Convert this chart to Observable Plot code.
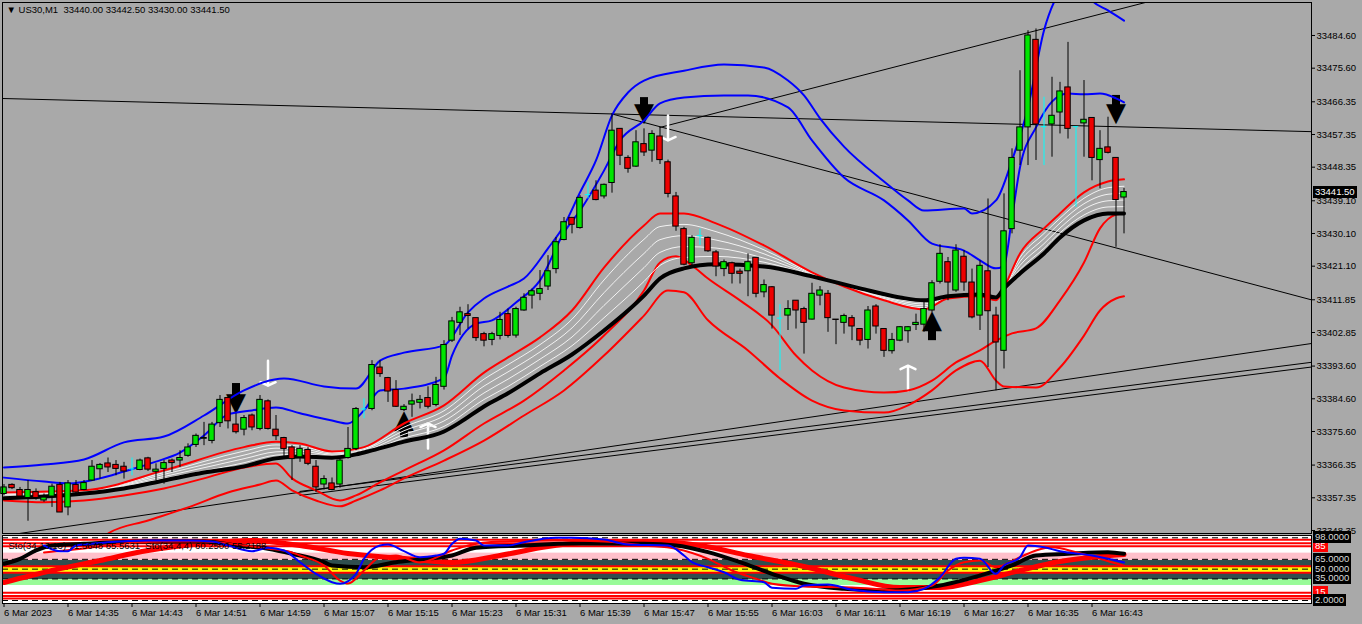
<!DOCTYPE html>
<html><head><meta charset="utf-8">
<script src="https://cdn.jsdelivr.net/npm/d3@7"></script>
<script src="https://cdn.jsdelivr.net/npm/@observablehq/plot@0.6"></script>
<style>
html,body{margin:0;padding:0;background:#a9a9a9;}
#wrap{position:relative;width:1362px;height:624px;background:#a9a9a9;overflow:hidden;font-family:"Liberation Sans",Arial,sans-serif;}
#main{position:absolute;left:0;top:0;}
#ind{position:absolute;left:0;top:534px;}
.box{position:absolute;height:12px;line-height:12px;font-size:9.5px;padding:0 2px;white-space:nowrap;}
</style></head><body><div id="wrap"><div id="main"></div><div id="ind"></div></div>
<script>
// ---------- candles (1-minute bars, US30, 6 Mar 2023 14:27 .. 16:47) ----------
const open = [33358.4,33360.9,33359.5,33357.3,33358.9,33356.6,33357.7,33360.9,33354.7,33360.9,
 33359.5,33362.1,33365.2,33366.8,33366.4,33365.9,33365.3,33365.0,33368.2,33364.5,
 33365.3,33367.6,33367.6,33368.9,33371.9,33373.6,33373.0,33377.9,33384.8,33377.5,
 33376.1,33380.0,33376.3,33383.9,33376.1,33373.8,33371.2,33368.5,33370.5,33365.9,
 33361.0,33361.3,33361.0,33368.3,33370.8,33381.8,33381.8,33393.2,33390.3,33387.0,
 33381.5,33383.0,33383.5,33384.8,33382.9,33387.9,33400.6,33405.5,33407.9,33406.8,
 33402.4,33400.8,33401.9,33407.9,33402.0,33408.9,33413.0,33413.5,33415.5,33420.3,
 33428.3,33434.4,33431.6,33440.8,33441.9,33440.3,33444.0,33458.9,33450.9,33448.5,
 33454.7,33452.9,33456.8,33449.7,33440.3,33431.3,33421.9,33429.5,33428.9,33424.9,
 33420.3,33421.9,33419.6,33419.7,33423.4,33413.9,33415.3,33406.8,33407.5,33411.6,
 33409.3,33406.4,33413.0,33413.5,33406.4,33405.5,33406.8,33403.8,33400.8,33410.0,
 33403.8,33397.7,33400.6,33403.2,33404.9,33405.0,33408.9,33416.8,33422.2,33414.4,
 33423.7,33416.6,33407.5,33419.7,33407.5,33397.8,33431.3,33452.9,33459.3,33483.4,
 33459.5,33460.1,33463.4,33470.3,33459.5,33460.4,33461.9,33450.3,33453.8,33450.9,
 33440.0];
const high = [33361.0,33361.2,33360.2,33362.1,33359.8,33358.4,33361.1,33361.6,33362.1,33362.1,
 33362.1,33367.6,33366.8,33368.3,33367.6,33367.1,33368.3,33368.0,33368.5,33366.7,
 33367.6,33368.0,33370.3,33372.2,33374.9,33378.1,33378.1,33385.5,33385.0,33380.4,
 33380.0,33380.4,33385.5,33384.3,33380.0,33374.0,33371.7,33371.7,33371.2,33367.6,
 33363.4,33362.8,33368.0,33376.7,33382.2,33384.6,33395.1,33395.1,33390.5,33389.6,
 33383.0,33385.9,33385.5,33387.9,33390.5,33400.6,33407.0,33409.8,33410.5,33406.8,
 33402.9,33402.9,33408.4,33409.3,33409.8,33413.5,33414.8,33419.9,33424.0,33429.0,
 33434.5,33434.5,33440.5,33444.2,33444.6,33443.7,33463.0,33458.9,33451.5,33458.4,
 33458.9,33458.4,33459.3,33450.3,33441.4,33431.8,33429.5,33431.3,33429.1,33425.4,
 33422.8,33422.2,33420.3,33424.5,33423.5,33417.3,33415.5,33410.5,33411.6,33411.6,
 33409.8,33416.4,33415.5,33414.4,33406.4,33407.9,33407.5,33403.8,33410.0,33410.5,
 33403.8,33402.6,33404.5,33404.5,33407.9,33411.1,33417.1,33427.0,33423.5,33427.0,
 33425.4,33420.3,33422.6,33439.6,33409.8,33441.0,33453.4,33474.9,33485.9,33486.4,
 33467.6,33473.1,33471.7,33482.7,33459.5,33472.2,33461.9,33458.4,33462.1,33450.9,
 33442.5];
const low = [33357.9,33359.6,33357.4,33350.9,33356.7,33356.1,33354.7,33353.3,33352.4,33358.4,
 33359.3,33361.9,33362.5,33364.3,33363.4,33362.5,33363.4,33364.8,33364.6,33362.1,
 33361.1,33364.3,33365.7,33368.5,33371.2,33371.7,33372.2,33376.7,33376.3,33374.9,
 33374.4,33375.8,33375.8,33376.0,33373.1,33368.0,33362.1,33367.1,33366.2,33358.8,
 33359.5,33359.3,33360.0,33368.0,33370.3,33379.1,33381.3,33390.5,33383.6,33382.2,
 33381.1,33379.5,33381.8,33381.8,33382.4,33387.0,33400.1,33402.0,33403.8,33400.4,
 33398.9,33399.2,33400.8,33401.3,33401.3,33408.7,33409.3,33411.6,33414.4,33419.0,
 33428.1,33430.0,33431.3,33439.6,33439.1,33439.6,33441.2,33448.8,33446.7,33448.3,
 33451.3,33449.7,33449.1,33439.9,33430.7,33421.2,33421.2,33426.8,33424.9,33418.2,
 33418.2,33416.2,33416.2,33412.7,33412.4,33412.4,33403.8,33392.3,33403.4,33403.8,
 33396.9,33406.3,33410.2,33402.9,33399.5,33402.4,33400.6,33399.2,33398.3,33402.4,
 33396.0,33396.9,33400.3,33399.9,33403.4,33402.9,33408.4,33416.2,33411.6,33413.9,
 33414.2,33406.6,33403.4,33393.2,33386.8,33392.8,33430.0,33448.8,33448.8,33450.2,
 33448.8,33451.1,33457.5,33456.1,33437.3,33451.1,33444.6,33442.4,33452.0,33426.3,
 33430.0];
const close = [33360.2,33360.0,33357.7,33359.5,33357.3,33357.4,33360.4,33353.3,33361.3,33358.8,
 33361.4,33365.9,33366.4,33365.7,33365.3,33364.6,33365.3,33367.6,33365.1,33365.1,
 33366.9,33366.9,33368.3,33371.2,33374.4,33373.8,33377.5,33384.3,33378.4,33375.4,
 33379.3,33376.7,33384.3,33376.3,33374.3,33370.8,33368.0,33370.8,33366.7,33360.2,
 33362.5,33359.5,33367.6,33370.8,33381.8,33381.8,33393.9,33391.4,33386.6,33382.4,
 33382.4,33383.9,33384.3,33382.4,33388.4,33399.4,33405.9,33408.4,33407.4,33401.3,
 33400.6,33402.4,33406.3,33401.9,33409.3,33412.4,33414.2,33414.8,33419.7,33427.7,
 33433.2,33432.5,33439.9,33440.8,33439.3,33443.5,33458.4,33451.5,33447.9,33455.2,
 33452.4,33457.5,33450.3,33441.0,33432.0,33421.5,33428.9,33429.5,33425.2,33421.0,
 33422.2,33419.0,33419.0,33422.2,33413.5,33415.9,33407.5,33406.8,33409.3,33408.9,
 33405.5,33413.5,33414.4,33406.8,33406.3,33407.4,33404.5,33400.6,33408.9,33404.5,
 33397.8,33400.8,33404.3,33404.3,33405.5,33409.3,33416.4,33424.5,33416.6,33425.4,
 33416.6,33407.0,33421.2,33408.7,33400.1,33430.7,33450.9,33459.3,33484.6,33460.1,
 33459.5,33462.5,33469.2,33458.9,33459.5,33461.4,33450.9,33453.4,33452.3,33439.3,
 33441.5];

// ---------- time axis ----------
const tickIdx = [0,8,16,24,32,40,48,56,64,72,80,88,96,104,112,120,128,136];
const tickLabels = ["6 Mar 2023","6 Mar 14:35","6 Mar 14:43","6 Mar 14:51","6 Mar 14:59","6 Mar 15:07",
 "6 Mar 15:15","6 Mar 15:23","6 Mar 15:31","6 Mar 15:39","6 Mar 15:47","6 Mar 15:55","6 Mar 16:03",
 "6 Mar 16:11","6 Mar 16:19","6 Mar 16:27","6 Mar 16:35","6 Mar 16:43"];
const priceTicks = [33484.60,33475.60,33466.35,33457.35,33448.35,33439.10,33430.10,33421.10,33411.85,
 33402.85,33393.60,33384.60,33375.60,33366.35,33357.35,33348.35];

// ---------- overlay indicator lines ----------
const blueOuterIdx = [0,5,10,15,20,25,30,35,40,44,47,50,55,58,60,63,65,68,70,72,74,76,78,80,85,90,95,98,100,102,105,110,113,115,120,121,124,126,128,130,132,134,136,138,140];
const blueOuter = [33365.7,33366.5,33367.9,33372.6,33374.2,33380.0,33386.9,33390.2,33388.0,33387.4,33395.1,33397.3,33399.3,33408.4,33412.2,33415.5,33417.7,33426.0,33432.3,33441.4,33450.2,33462.6,33468.9,33472.2,33474.9,33476.6,33475.8,33472.2,33468.1,33461.8,33454.0,33444.4,33439.2,33436.4,33437.0,33435.6,33439.2,33450.2,33464.8,33486.0,33497.0,33501.1,33494.2,33491.5,33488.7];
const blueInnerIdx = [0,5,8,12,15,19,22,25,28,31,34,37,41,43,45,47,50,55,56,59,61,64,67,70,72,75,77,80,82,85,90,93,98,101,105,110,113,116,120,122,124,125,126,127,129,131,133,135,137,139,140];
const blueInner = [33362.9,33361.8,33361.3,33362.7,33364.6,33367.3,33369.8,33374.5,33380.3,33381.4,33382.2,33380.6,33378.6,33377.8,33381.4,33386.9,33387.4,33390.2,33396.5,33405.3,33406.2,33411.1,33417.2,33430.4,33436.4,33447.4,33455.7,33461.2,33465.9,33467.5,33468.1,33468.1,33464.8,33455.7,33445.5,33439.2,33433.7,33427.3,33425.4,33422.7,33420.5,33421.3,33434.5,33448.3,33459.3,33466.4,33468.6,33468.4,33468.6,33467.3,33466.2];
const ribbonIdx = [0,10,20,30,34,37,41,45,50,55,60,63,67,71,75,80,82,85,89,95,101,105,110,115,118,122,124,125,127,130,132,135,138,140];
const ribbonRed = [33358.8,33359.4,33364.9,33371.3,33372.8,33372.3,33370.1,33371.3,33377.8,33382.8,33391.8,33396.0,33401.5,33408.9,33420.7,33432.3,33435.6,33435.6,33432.9,33426.8,33419.4,33415.5,33411.7,33409.2,33412.2,33412.8,33411.7,33415.2,33424.6,33431.5,33435.6,33441.4,33444.4,33445.0];
const white1 = [33358.5,33359.2,33364.3,33370.2,33371.9,33371.6,33369.8,33370.9,33376.8,33381.3,33390.0,33394.0,33399.5,33406.5,33417.3,33428.5,33432.0,33432.6,33430.6,33425.6,33419.1,33415.6,33411.9,33409.7,33412.3,33412.9,33411.8,33415.2,33423.5,33430.1,33434.3,33439.8,33442.7,33443.1];
const white2 = [33358.2,33359.0,33363.8,33369.1,33371.0,33370.9,33369.4,33370.6,33375.8,33379.9,33388.1,33392.0,33397.5,33404.1,33413.8,33424.6,33428.4,33429.5,33428.3,33424.5,33418.9,33415.6,33412.2,33410.2,33412.4,33413.0,33412.0,33415.1,33422.4,33428.7,33433.0,33438.3,33440.9,33441.2];
const white3 = [33357.8,33358.9,33363.2,33368.1,33370.0,33370.2,33369.1,33370.2,33374.8,33378.5,33386.2,33390.0,33395.5,33401.6,33410.3,33420.7,33424.9,33426.5,33426.1,33423.3,33418.7,33415.7,33412.5,33410.7,33412.5,33413.1,33412.2,33415.1,33421.3,33427.3,33431.6,33436.8,33439.1,33439.3];
const white4 = [33357.5,33358.7,33362.7,33367.0,33369.1,33369.4,33368.8,33369.9,33373.8,33377.0,33384.4,33388.0,33393.5,33399.2,33406.9,33416.9,33421.3,33423.5,33423.8,33422.2,33418.5,33415.7,33412.8,33411.2,33412.7,33413.2,33412.3,33415.0,33420.2,33426.0,33430.3,33435.2,33437.4,33437.5];
const blackIdx = [0,5,10,15,20,25,30,34,37,41,44,46,50,55,57,60,63,67,71,75,78,80,82,85,89,95,101,107,112,115,118,122,124,125,127,130,132,135,138,140];
const blackMA = [33357.2,33357.7,33358.5,33359.9,33362.1,33364.3,33366.0,33368.2,33368.7,33368.4,33369.3,33370.4,33372.8,33375.6,33378.1,33382.5,33386.1,33391.6,33396.8,33403.4,33408.9,33413.0,33417.7,33420.5,33421.6,33421.0,33418.3,33415.0,33412.5,33411.7,33412.8,33413.3,33412.5,33415.0,33419.1,33424.6,33429.0,33433.7,33435.6,33435.6];
const lowerRed1Idx = [0,5,10,15,20,25,30,34,36,39,42,44,47,50,55,60,65,70,75,80,82,84,86,88,92,96,99,101,105,110,113,116,119,122,124,126,129,132,135,137,139,140];
const lowerRed1 = [33356.6,33356.1,33356.6,33358.0,33359.9,33362.7,33365.7,33366.8,33362.7,33359.4,33356.6,33358.0,33361.6,33364.9,33370.4,33377.8,33384.1,33392.4,33402.0,33414.4,33422.1,33423.8,33421.3,33417.7,33411.7,33404.8,33396.5,33392.4,33387.7,33386.3,33386.9,33389.6,33394.6,33397.9,33400.6,33402.6,33404.0,33411.7,33422.1,33431.5,33435.3,33435.6];
const lowerRed2Idx = [12,13,18,23,28,32,34,36,39,42,44,47,50,55,60,65,70,75,80,83,85,88,93,97,101,105,110,113,116,119,122,124,125,129,132,135,137,139,140];
const lowerRed2 = [33345.0,33347.5,33351.1,33354.7,33358.8,33361.0,33362.1,33359.4,33356.6,33355.0,33356.6,33359.4,33362.7,33367.6,33373.1,33380.0,33386.9,33396.5,33407.5,33414.4,33413.9,33406.2,33397.9,33390.2,33384.1,33381.4,33380.8,33382.8,33386.9,33392.4,33395.1,33389.6,33388.0,33387.7,33393.2,33402.0,33408.9,33412.2,33412.8];

// ---------- trend lines drawn on the chart ----------
const trendIdx1 = [-1,164], trend1 = [33467.3,33458.1];
const trendIdx2 = [76,164], trend2 = [33463.0,33411.5];
const trendIdx3 = [82,145], trend3 = [33459.3,33495.0];
const trendIdx4 = [0,164], trend4 = [33346.9,33400.0];
const trendIdx5 = [37,164], trend5 = [33359.1,33394.8];
const trendIdx6 = [37,164], trend6 = [33358.0,33393.5];

// ---------- signal arrows: bar, tail price, tip price ----------
const blackDownIdx = [29,80,139];
const blackDownFrom = [33388.8,33467.5,33468.1];
const blackDownTo = [33380.6,33460.4,33460.4];
const blackUpIdx = [50,116];
const blackUpFrom = [33373.9,33400.6];
const blackUpTo = [33380.8,33408.4];
const whiteArrowIdx = [33,83,53,113];
const whiteArrowFrom = [33395.1,33462.6,33370.9,33386.9];
const whiteArrowTo = [33388.2,33455.7,33377.8,33393.7];

// ---------- lower oscillator panel ----------
const oscBlueIdx = [5,7,8,9,11,13,18,23,26,28,31,33,35,37,39,41,42,44,45,47,48,50,52,54,55,56,57,59,60,63,65,69,71,75,78,83,85,86,88,90,92,95,96,99,100,103,106,110,113,115,117,119,120,122,124,125,127,128,130,132,136,139,140];
const oscBlue = [86.2,77.5,77.5,86.2,88.8,91.3,93.9,93.9,92.3,86.2,77.5,82.7,78.6,60.6,42.9,30.0,27.6,42.9,65.8,86.2,87.7,77.5,68.3,70.9,73.5,88.8,96.5,93.9,86.2,86.2,91.3,98.0,98.0,95.4,87.7,86.2,70.9,60.6,53.0,45.3,33.7,30.0,21.4,19.9,25.0,26.5,18.4,14.7,14.7,19.9,37.7,65.8,67.4,65.8,42.9,55.6,68.3,86.2,83.6,77.5,70.9,63.2,60.25];
const oscRedIdx = [5,10,15,20,25,30,33,36,37,40,42,43,45,47,49,52,56,58,62,70,75,80,84,88,91,94,96,100,106,110,112,116,118,120,122,124,127,129,131,134,137,140];
const oscRed = [75.5,81.6,89.3,92.3,92.3,86.2,81.6,75.5,70.9,55.6,32.6,28.0,47.9,68.3,70.9,60.2,78.6,86.2,92.3,93.9,92.3,86.2,81.2,65.8,47.9,35.2,27.6,23.4,21.9,18.8,17.3,25.0,47.9,60.6,63.2,53.0,68.3,78.6,83.6,76.0,66.0,55.2];
const oscBlackIdx = [0,2,4,6,10,18,25,29,33,36,40,41,45,49,52,56,59,65,71,80,84,88,92,96,100,105,110,117,122,126,129,133,138,140];
const oscBlack = [58.2,65.8,78.6,86.2,88.8,92.3,92.3,86.2,81.2,73.5,60.6,55.6,53.0,60.6,64.8,70.9,82.7,86.2,89.3,88.8,86.2,76.0,60.6,42.9,27.6,19.9,17.3,25.0,40.3,55.6,70.9,73.5,76.0,73.5];
const oscRedThickIdx = [0,6,12,18,25,31,37,43,50,56,62,68,75,81,87,93,100,106,112,117,122,127,132,137,140];
const oscRedThick = [29.6,47.9,63.2,78.6,89.3,93.9,86.2,74.0,66.3,60.2,70.9,84.7,92.3,92.3,86.2,70.9,54.1,35.7,21.9,21.9,32.6,47.9,61.7,69.4,72.4];
const zoneLow = [63.2,54,45,34,25];
const zoneHigh = [74.5,63.2,54,44,34];
const zoneColor = ["#ffc0cb","#2f4f4f","#ffff00","#2f4f4f","#98fb98"];
const redLevels = [95,89.5,85,54.5,44.5,14,9,5];
const dashLevels = [98,65,50,35,2];
const levelLabels = [98,65,50,35,2];

const titleText = "\u25BC US30,M1  33440.00 33442.50 33430.00 33441.50";
const stoText = "Sto(34,13,13) 71.5648 65.5631  Sto(34,4,4) 60.2500 55.2188";
const lastPrice = 33441.50;

// ---------- build ----------
const FONT = '"Liberation Sans", Arial, "DejaVu Sans", sans-serif';
const GREEN = "#00e600", RED = "#ee0000", CYAN = "#00ffff";
const X_DOMAIN = [-0.1875, 163.4375];
const candles = open.map((o, i) => ({i, o, h: high[i], l: low[i], c: close[i]}));
const dojis = candles.filter(d => d.o === d.c);
const ups = candles.filter(d => d.c > d.o);
const downs = candles.filter(d => d.c < d.o);
const pts = (ix, vs) => ix.map((i, k) => ({i, v: vs[k]}));
const ln = (ix, vs, stroke, w, curve = "monotone-x") =>
  Plot.line(pts(ix, vs), {x: "i", y: "v", stroke, strokeWidth: w, curve, clip: true});
const arrowsOf = (ix, from, to) => ix.map((i, k) => ({i, from: from[k], to: to[k]}));
const BW = 0.34;
const downArrows = arrowsOf(blackDownIdx, blackDownFrom, blackDownTo);
const upArrows = arrowsOf(blackUpIdx, blackUpFrom, blackUpTo);
const shaftEnd = d => d.to + (d.from - d.to) * 0.35;

const mainChart = Plot.plot({
  width: 1362, height: 534,
  marginLeft: 2, marginRight: 51, marginTop: 2, marginBottom: 1,
  style: {background: "transparent", fontFamily: FONT, fontSize: "9.5px", color: "black", overflow: "visible"},
  x: {domain: X_DOMAIN, axis: null},
  y: {domain: [33347.52, 33493.68], axis: null},
  marks: [
    ln(trendIdx1, trend1, "black", 1, "linear"),
    ln(trendIdx2, trend2, "black", 1, "linear"),
    ln(trendIdx3, trend3, "black", 1, "linear"),
    ln(trendIdx4, trend4, "black", 1, "linear"),
    ln(trendIdx5, trend5, "black", 1, "linear"),
    ln(trendIdx6, trend6, "black", 1, "linear"),
    // black signal arrows: thick shaft + triangular head
    Plot.ruleX(downArrows, {x: "i", y1: "from", y2: shaftEnd, stroke: "black", strokeWidth: 8}),
    Plot.text(downArrows, {x: "i", y: "to", text: () => "\u25BC", fontSize: 26, fill: "black", fontFamily: "DejaVu Sans", lineAnchor: "bottom", dy: -2}),
    Plot.ruleX(upArrows, {x: "i", y1: "from", y2: shaftEnd, stroke: "black", strokeWidth: 8}),
    Plot.text(upArrows, {x: "i", y: "to", text: () => "\u25B2", fontSize: 26, fill: "black", fontFamily: "DejaVu Sans", lineAnchor: "top", dy: -3}),
    Plot.arrow(arrowsOf(whiteArrowIdx, whiteArrowFrom, whiteArrowTo), {x1: "i", y1: "from", x2: "i", y2: "to", stroke: "white", strokeWidth: 2.5, headAngle: 130, headLength: 12}),
    ln(blueOuterIdx, blueOuter, "#0000ff", 2),
    ln(blueInnerIdx, blueInner, "#0000ff", 2),
    ln(lowerRed2Idx, lowerRed2, "#ff0000", 2),
    ln(lowerRed1Idx, lowerRed1, "#ff0000", 2),
    ln(ribbonIdx, white4, "#f2f2f2", 1),
    ln(ribbonIdx, white3, "#f2f2f2", 1),
    ln(ribbonIdx, white2, "#f2f2f2", 1),
    ln(ribbonIdx, white1, "#f2f2f2", 1),
    ln(ribbonIdx, ribbonRed, "#ff0000", 2),
    ln(blackIdx, blackMA, "black", 4),
    Plot.ruleX(ups.concat(downs), {x: "i", y1: "l", y2: "h", stroke: "black", strokeWidth: 1}),
    Plot.ruleX(dojis, {x: "i", y1: "l", y2: "h", stroke: CYAN, strokeWidth: 1}),
    Plot.ruleY(dojis, {y: "c", x1: d => d.i - BW, x2: d => d.i + BW, stroke: CYAN, strokeWidth: 1}),
    Plot.rect(ups, {x1: d => d.i - BW, x2: d => d.i + BW, y1: "o", y2: "c", fill: GREEN, stroke: "black", strokeWidth: 1}),
    Plot.rect(downs, {x1: d => d.i - BW, x2: d => d.i + BW, y1: "o", y2: "c", fill: RED, stroke: "black", strokeWidth: 1}),
    Plot.frame({stroke: "black"}),
    Plot.axisY(priceTicks, {anchor: "right", tickSize: 3, tickPadding: 2, tickFormat: d3.format(".2f"), fill: "black", stroke: "black", label: null}),
    Plot.text([titleText], {text: d => d, frameAnchor: "top-left", lineAnchor: "top", textAnchor: "start", dx: 4, dy: 4, fill: "black"})
  ]
});
document.getElementById("main").appendChild(mainChart);

const labelOf = new Map(tickIdx.map((t, k) => [t, tickLabels[k]]));
const zones = zoneLow.map((lo, k) => ({lo, hi: zoneHigh[k], color: zoneColor[k]}));
const indChart = Plot.plot({
  width: 1362, height: 90,
  marginLeft: 2, marginRight: 51, marginTop: 1, marginBottom: 21,
  style: {background: "transparent", fontFamily: FONT, fontSize: "9.5px", color: "black", overflow: "visible"},
  x: {domain: X_DOMAIN},
  y: {domain: [-2.6, 101.5], axis: null},
  color: {type: "identity"},
  marks: [
    Plot.frame({fill: "white"}),
    Plot.rect(zones, {y1: "lo", y2: "hi", fill: "color"}),
    Plot.ruleY(redLevels, {stroke: "#ff0000", strokeWidth: 2}),
    Plot.ruleY(dashLevels, {stroke: "black", strokeDasharray: "6,4"}),
    ln(oscRedThickIdx, oscRedThick, "#ff0000", 5),
    ln(oscBlackIdx, oscBlack, "black", 4),
    ln(oscRedIdx, oscRed, "#ff0000", 2),
    ln(oscBlueIdx, oscBlue, "#0000ff", 2),
    Plot.text([stoText], {text: d => d, frameAnchor: "top-left", lineAnchor: "middle", textAnchor: "start", dx: 6, dy: 10, fill: "black"}),
    Plot.frame({stroke: "black"}),
    Plot.axisX(tickIdx, {anchor: "bottom", tickSize: 4, tickPadding: 2, textAnchor: "start", tickFormat: d => labelOf.get(d), fill: "black", stroke: "black", label: null})
  ]
});
document.getElementById("ind").appendChild(indChart);

// level / price boxes placed through the charts' own y scales
const wrap = document.getElementById("wrap");
function addBox(top, text, bg, fg, left = 1313) {
  const d = document.createElement("div");
  d.className = "box";
  d.style.left = left + "px";
  d.style.top = (top - 6) + "px";
  d.style.background = bg;
  d.style.color = fg;
  d.textContent = text;
  wrap.appendChild(d);
}
const ym = mainChart.scale("y"), yi = indChart.scale("y");
addBox(ym.apply(lastPrice), d3.format(".2f")(lastPrice), "black", "white");
addBox(534 + yi.apply(85), "85", "#ff0000", "white");
addBox(534 + yi.apply(15), "15", "#ff0000", "white");
levelLabels.forEach(v => addBox(534 + yi.apply(v), d3.format(".4f")(v), "black", "#d8d8d8"));
</script></body></html>
